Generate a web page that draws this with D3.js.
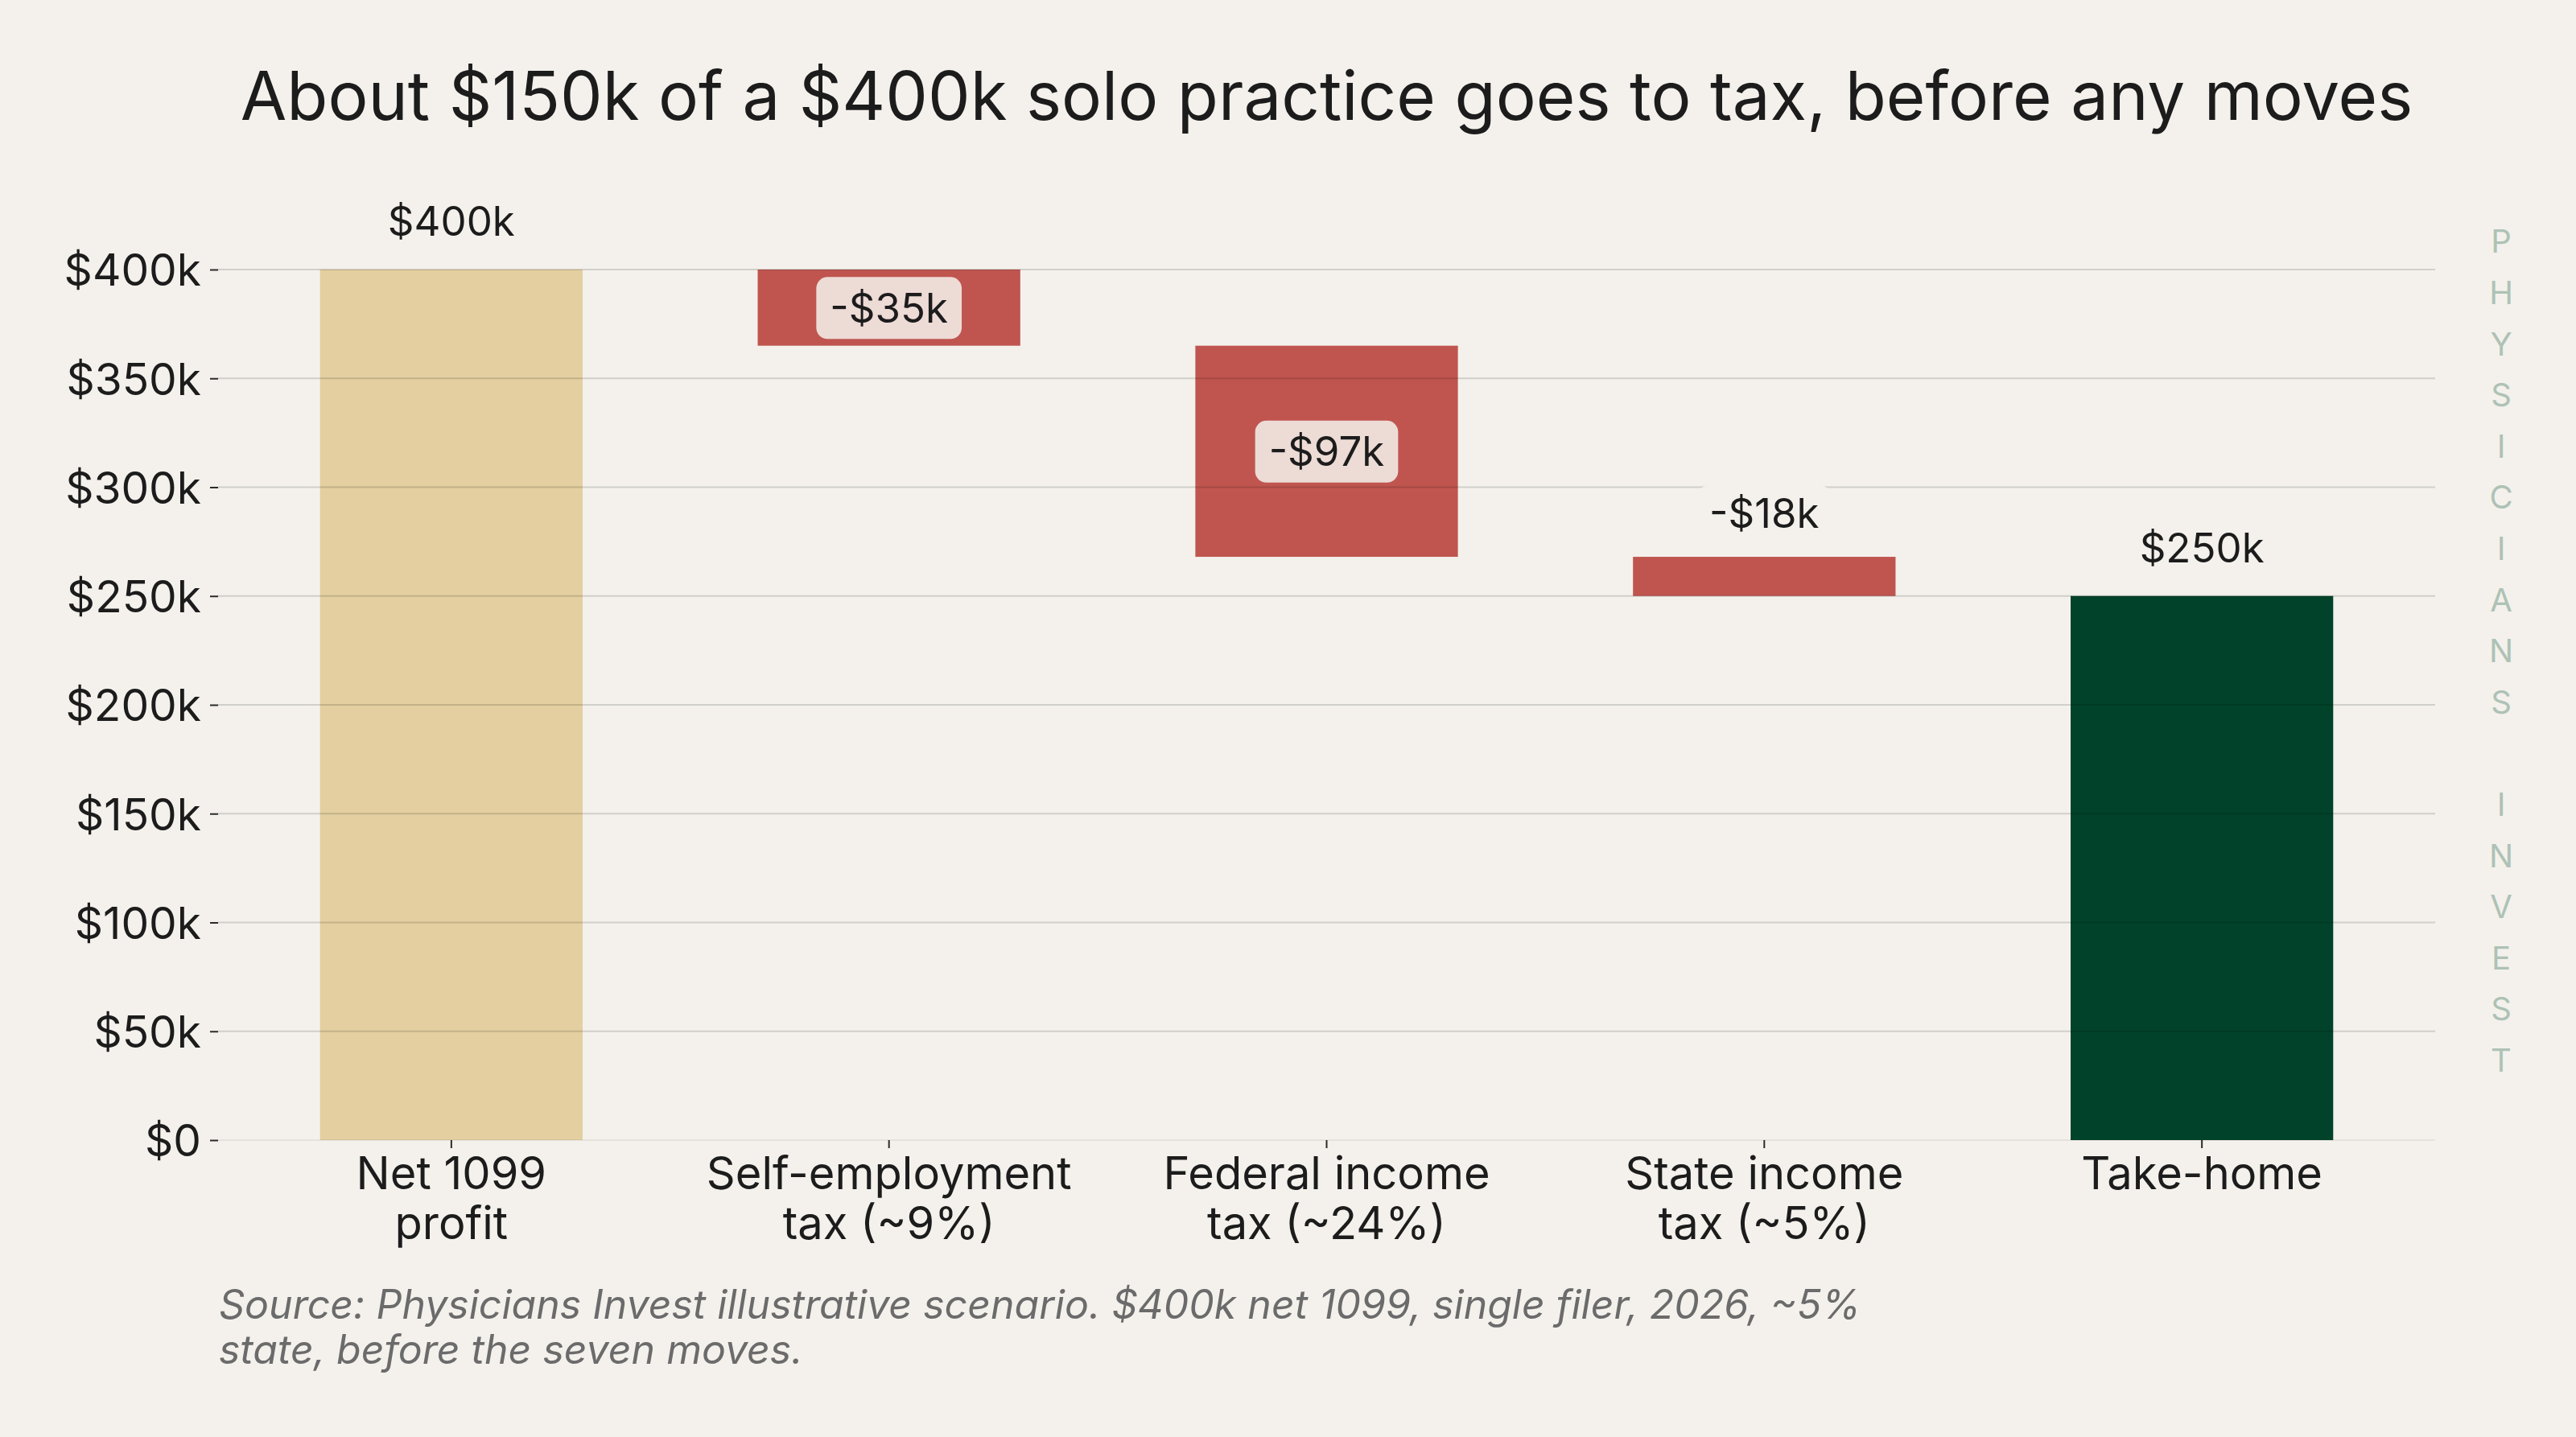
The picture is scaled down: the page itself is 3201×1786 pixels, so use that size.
<!DOCTYPE html>
<html>
<head>
<meta charset="utf-8">
<script src="https://cdn.jsdelivr.net/npm/d3@7/dist/d3.min.js"></script>
<style>
  html, body { margin: 0; padding: 0; background: #f4f1ec; }
  svg { display: block; }
  text { font-family: Inter, "Noto Sans", sans-serif; }
</style>
</head>
<body>
<div id="chart"></div>
<script>
// waterfall data
const categories = [
    ["Net 1099", "profit"],
    ["Self-employment", "tax (~9%)"],
    ["Federal income", "tax (~24%)"],
    ["State income", "tax (~5%)"],
    ["Take-home"]
];
const stepValues = [400000, -35000, -97000, -18000, 250000];
const stepKinds = ["start", "delta", "delta", "delta", "total"];
const yTicks = [0, 50000, 100000, 150000, 200000, 250000, 300000, 350000, 400000];

const titleText = "About $150k of a $400k solo practice goes to tax, before any moves";
const sourceLines = [
    "Source: Physicians Invest illustrative scenario. $400k net 1099, single filer, 2026, ~5%",
    "state, before the seven moves."
];
const watermark = "PHYSICIANS INVEST";

const W = 3201, H = 1786;
const colors = { start: "#e3cf9f", delta: "#c0554f", total: "#00432a" };

const svg = d3.select("#chart").append("svg")
    .attr("width", W)
    .attr("height", H);

svg.append("rect").attr("width", W).attr("height", H).attr("fill", "#f4f1ec");

// 计算每一步的起止
let running = 0;
const steps = stepValues.map((v, i) => {
    let y0, y1;
    if (stepKinds[i] === "delta") {
        y0 = running + v;
        y1 = running;
        running += v;
    } else {
        y0 = 0;
        y1 = v;
        running = v;
    }
    return { i, v, kind: stepKinds[i], y0, y1, cat: categories[i] };
});

const x = d3.scaleBand()
    .domain(d3.range(categories.length))
    .range([271, 3026])
    .paddingInner(0.4)
    .paddingOuter(0.233);

const y = d3.scaleLinear()
    .domain([0, 400000])
    .range([1417, 335]);

// title
svg.append("text")
    .attr("x", (271 + 3026) / 2)
    .attr("y", 149)
    .attr("text-anchor", "middle")
    .attr("font-size", 83.5)
    .attr("fill", "#1c1c1c")
    .text(titleText);

// bars
svg.append("g").selectAll("rect")
    .data(steps)
    .join("rect")
    .attr("x", d => x(d.i))
    .attr("width", x.bandwidth())
    .attr("y", d => y(d.y1))
    .attr("height", d => y(d.y0) - y(d.y1))
    .attr("fill", d => colors[d.kind]);

// gridlines drawn over the bars
svg.append("g").selectAll("line")
    .data(yTicks)
    .join("line")
    .attr("x1", 271)
    .attr("x2", 3026)
    .attr("y1", d => y(d))
    .attr("y2", d => y(d))
    .attr("stroke", "#000")
    .attr("stroke-opacity", d => d === 0 ? 0.06 : 0.14)
    .attr("stroke-width", 2);

// y axis
const yAxis = svg.append("g")
    .attr("transform", "translate(271,0)")
    .call(d3.axisLeft(y).tickValues(yTicks).tickSize(10).tickPadding(11)
        .tickFormat(d => d === 0 ? "$0" : "$" + d / 1000 + "k"));
yAxis.select(".domain").remove();
yAxis.selectAll(".tick line").attr("stroke", "#2b2b2b").attr("stroke-width", 2);
yAxis.selectAll(".tick text")
    .attr("font-size", 55)
    .attr("font-family", "Inter, sans-serif")
    .attr("fill", "#1c1c1c")
    .attr("dy", "0.36em");

// x axis
const xAxis = svg.append("g")
    .attr("transform", "translate(0,1417)")
    .call(d3.axisBottom(x).tickSize(10).tickFormat(""));
xAxis.select(".domain").remove();
xAxis.selectAll(".tick line").attr("stroke", "#2b2b2b").attr("stroke-width", 2);

// category labels, one text per line
svg.append("g").selectAll("text")
    .data(steps.flatMap(d => d.cat.map((t, k) => ({ t, k, i: d.i }))))
    .join("text")
    .attr("x", d => x(d.i) + x.bandwidth() / 2)
    .attr("y", d => 1478 + d.k * 62)
    .attr("text-anchor", "middle")
    .attr("font-size", 56)
    .attr("fill", "#1c1c1c")
    .text(d => d.t);

// value labels
const fmt = v => (v < 0 ? "-$" : "$") + Math.abs(v) / 1000 + "k";
const labelSize = 51;
const pad = 16;

steps.forEach(d => {
    const cx = x(d.i) + x.bandwidth() / 2;
    const hPx = y(d.y0) - y(d.y1);
    const g = svg.append("g");
    if (d.kind === "delta" && hPx > 80) {
        // 标签放在柱内, 带浅色底框
        const cy = (y(d.y0) + y(d.y1)) / 2;
        const t = g.append("text")
            .attr("x", cx)
            .attr("y", cy)
            .attr("dy", "0.36em")
            .attr("text-anchor", "middle")
            .attr("font-size", labelSize)
            .attr("fill", "#1c1c1c")
            .text(fmt(d.v));
        const b = t.node().getBBox();
        g.insert("rect", "text")
            .attr("x", b.x - pad - 1)
            .attr("y", cy - 38)
            .attr("width", b.width + 2 * pad + 2)
            .attr("height", 77)
            .attr("rx", 14)
            .attr("fill", "#eddbd6");
    } else {
        const off = d.kind === "delta" ? 36 : 42;
        const t = g.append("text")
            .attr("x", cx)
            .attr("y", y(d.y1) - off)
            .attr("text-anchor", "middle")
            .attr("font-size", labelSize)
            .attr("fill", "#1c1c1c")
            .text(fmt(d.v));
        const b = t.node().getBBox();
        g.insert("rect", "text")
            .attr("x", b.x - pad)
            .attr("y", y(d.y1) - off - 52)
            .attr("width", b.width + 2 * pad)
            .attr("height", 72)
            .attr("rx", 14)
            .attr("fill", "#f4f1ec");
    }
});

// source note
svg.append("text")
    .attr("x", 272)
    .attr("y", 1639)
    .attr("font-size", 50)
    .attr("font-style", "italic")
    .attr("fill", "#6b6b6b")
    .selectAll("tspan")
    .data(sourceLines)
    .join("tspan")
    .attr("x", 272)
    .attr("dy", (d, i) => i === 0 ? 0 : 56)
    .text(d => d);

// watermark, one letter per row
svg.append("g").selectAll("text")
    .data(watermark.split(""))
    .join("text")
    .attr("x", 3108)
    .attr("y", (d, i) => 300 + i * 63.6)
    .attr("dy", "0.36em")
    .attr("text-anchor", "middle")
    .attr("font-family", "'Liberation Sans', Arial, sans-serif")
    .attr("font-size", 40)
    .attr("fill", "#aec2b5")
    .text(d => d);
</script>
</body>
</html>
